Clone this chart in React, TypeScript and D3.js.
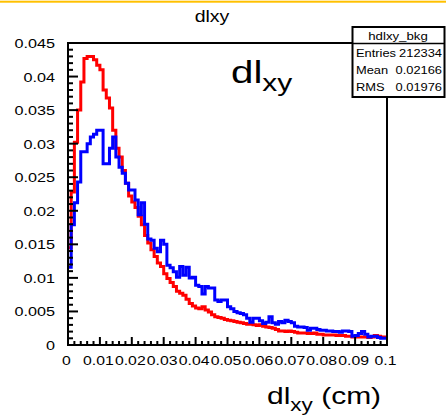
import React from "react";
import * as d3 from "d3";

const binEdgesMin = 0;
const binEdgesMax = 0.1;

const redValues = [
  0.0145, 0.0228, 0.0302, 0.035, 0.0392, 0.0427, 0.043, 0.043, 0.0425, 0.0417,
  0.041, 0.038, 0.0368, 0.0353, 0.032, 0.0293, 0.028, 0.026, 0.0241, 0.0222,
  0.0213, 0.0205, 0.0192, 0.0179, 0.0163, 0.0152, 0.0142, 0.0132, 0.0122, 0.0117,
  0.0106, 0.0099, 0.0093, 0.0087, 0.008, 0.0077, 0.0074, 0.0068, 0.0062, 0.0058,
  0.0055, 0.0054, 0.0057, 0.0052, 0.0049, 0.0045, 0.0042, 0.0041, 0.004, 0.0038,
  0.0037, 0.0036, 0.0035, 0.0034, 0.0033, 0.0032, 0.0031, 0.0031, 0.003, 0.0029,
  0.003, 0.0028, 0.0027, 0.0026, 0.0025, 0.0023, 0.0021, 0.0021, 0.002, 0.0021,
  0.002, 0.0019, 0.0018, 0.0018, 0.0018, 0.0017, 0.0017, 0.0018, 0.0016, 0.0016,
  0.0015, 0.0015, 0.0015, 0.0015, 0.0014, 0.0014, 0.0014, 0.0013, 0.0013, 0.0012,
  0.0012, 0.0012, 0.0012, 0.0012, 0.0011, 0.0012, 0.0014, 0.0013, 0.0012, 0.0012,
];

const blueValues = [
  0.0116, 0.0179, 0.0212, 0.0243, 0.0288, 0.0288, 0.03, 0.031, 0.0314, 0.032,
  0.032, 0.027, 0.027, 0.0293, 0.031, 0.028, 0.0265, 0.0256, 0.0241, 0.0231,
  0.0231, 0.0216, 0.0194, 0.0212, 0.018, 0.0158, 0.0156, 0.0144, 0.0139, 0.0156,
  0.015, 0.0119, 0.0115, 0.0109, 0.0101, 0.0117, 0.0104, 0.0116, 0.01, 0.0101,
  0.0089, 0.0087, 0.0076, 0.0087, 0.0085, 0.0085, 0.0067, 0.0065, 0.0067, 0.0067,
  0.0057, 0.0054, 0.005, 0.0048, 0.0047, 0.0045, 0.004, 0.0034, 0.004, 0.004,
  0.0036, 0.0032, 0.0034, 0.0042, 0.0033, 0.0031, 0.0035, 0.0033, 0.0037, 0.0035,
  0.0033, 0.0028, 0.0027, 0.0027, 0.0026, 0.0022, 0.0025, 0.0025, 0.0023, 0.0022,
  0.0022, 0.0021, 0.0021, 0.002, 0.002, 0.0019, 0.0021, 0.0021, 0.002, 0.0013,
  0.0014, 0.0017, 0.002, 0.0016, 0.0012, 0.0013, 0.0013, 0.0011, 0.001, 0.001,
];

const yTickValues = [0, 0.005, 0.01, 0.015, 0.02, 0.025, 0.03, 0.035, 0.04, 0.045];
const xTickValues = [0, 0.01, 0.02, 0.03, 0.04, 0.05, 0.06, 0.07, 0.08, 0.09, 0.1];

const chartTitle = "dlxy";
const statsName = "hdlxy_bkg";
const statsLabels = ["Entries", "Mean", "RMS"];
const statsValues = ["212334", "0.02166", "0.01976"];

const FONT = "'Liberation Sans', Arial, Helvetica, sans-serif";
const W = 446;
const H = 419;
const SX = 1.2;

function SText(props: {
  x: number;
  y: number;
  size: number;
  anchor?: "start" | "middle" | "end";
  sx?: number;
  children: React.ReactNode;
}) {
  const { x, y, size, anchor = "start", sx = SX, children } = props;
  return (
    <text
      transform={`translate(${x},${y}) scale(${sx},1)`}
      textAnchor={anchor}
      fontSize={size}
      fontFamily={FONT}
      fill="#000"
    >
      {children}
    </text>
  );
}

function fmt(v: number) {
  return String(+v.toFixed(3));
}

export default function App() {
  const x = d3.scaleLinear().domain([binEdgesMin, binEdgesMax]).range([68, 387]);
  const y = d3.scaleLinear().domain([0, 0.045]).range([345, 43]);
  const n = redValues.length;
  const bw = (binEdgesMax - binEdgesMin) / n;

  const stepPath = (vals: number[]) => {
    const pts: [number, number][] = [];
    vals.forEach((v, i) => {
      pts.push([binEdgesMin + i * bw, v]);
      pts.push([binEdgesMin + (i + 1) * bw, v]);
    });
    return (
      d3
        .line<[number, number]>()
        .x((d) => x(d[0]))
        .y((d) => y(d[1]))(pts) || ""
    );
  };

  const yMinor = d3.range(0, 0.0451, 0.001);
  const xMinor = d3.range(0, 0.1001, 0.002);

  return (
    <svg
      width={W}
      height={H}
      style={{ position: "absolute", left: 0, top: 0, background: "#fff" }}
    >
      <rect x={0} y={0} width={W} height={H} fill="#fff" />
      <rect x={0} y={0.7} width={W} height={2} fill="#ffc000" />

      <SText x={212} y={22} size={17} anchor="middle" sx={1.15}>
        {chartTitle}
      </SText>

      {/* histograms */}
      <path d={stepPath(redValues)} fill="none" stroke="#ff0000" strokeWidth={3} />
      <path d={stepPath(blueValues)} fill="none" stroke="#0000ff" strokeWidth={3} />

      {/* frame */}
      <rect
        x={x(0)}
        y={y(0.045)}
        width={x(0.1) - x(0)}
        height={y(0) - y(0.045)}
        fill="none"
        stroke="#000"
        strokeWidth={2}
      />

      {/* y ticks */}
      {yMinor.map((v, i) => {
        const major = i % 5 === 0;
        return (
          <line
            key={"ym" + i}
            x1={x(0)}
            x2={x(0) + (major ? 10 : 5)}
            y1={y(v)}
            y2={y(v)}
            stroke="#000"
            strokeWidth={2}
          />
        );
      })}
      {yTickValues.map((v) => (
        <SText key={"yl" + v} x={55} y={y(v) + 5} size={13.5} anchor="end">
          {fmt(v)}
        </SText>
      ))}

      {/* x ticks */}
      {xMinor.map((v, i) => {
        const major = i % 5 === 0;
        return (
          <line
            key={"xm" + i}
            x1={x(v)}
            x2={x(v)}
            y1={y(0)}
            y2={y(0) - (major ? 8 : 4)}
            stroke="#000"
            strokeWidth={2}
          />
        );
      })}
      {xTickValues.map((v) => (
        <SText key={"xl" + v} x={x(v) - 1.5} y={365} size={13.5} anchor="middle" sx={1.17}>
          {fmt(v)}
        </SText>
      ))}

      {/* big label inside plot */}
      <text
        transform={`translate(231,83) scale(1.3,1)`}
        fontSize={31}
        fontFamily={FONT}
        fill="#000"
      >
        dl
        <tspan fontSize={23} dy={8}>
          xy
        </tspan>
      </text>

      {/* x-axis title */}
      <text
        transform={`translate(267,404) scale(1.25,1)`}
        fontSize={24}
        fontFamily={FONT}
        fill="#000"
      >
        dl
        <tspan fontSize={18} dy={7}>
          xy
        </tspan>
        <tspan dy={-7}> (cm)</tspan>
      </text>

      {/* stats box */}
      <g>
        <rect x={352.5} y={27} width={92} height={70} fill="#fff" stroke="#000" strokeWidth={2} />
        <line x1={352.5} x2={444.5} y1={43.5} y2={43.5} stroke="#000" strokeWidth={1.5} />
        <SText x={398} y={40} size={11.5} anchor="middle" sx={1.15}>
          {statsName}
        </SText>
        {statsLabels.map((lab, i) => (
          <g key={lab}>
            <SText x={356} y={57 + i * 17} size={11.5} sx={1.12}>
              {lab}
            </SText>
            <SText x={442} y={57 + i * 17} size={11.5} anchor="end" sx={1.12}>
              {statsValues[i]}
            </SText>
          </g>
        ))}
      </g>
    </svg>
  );
}
